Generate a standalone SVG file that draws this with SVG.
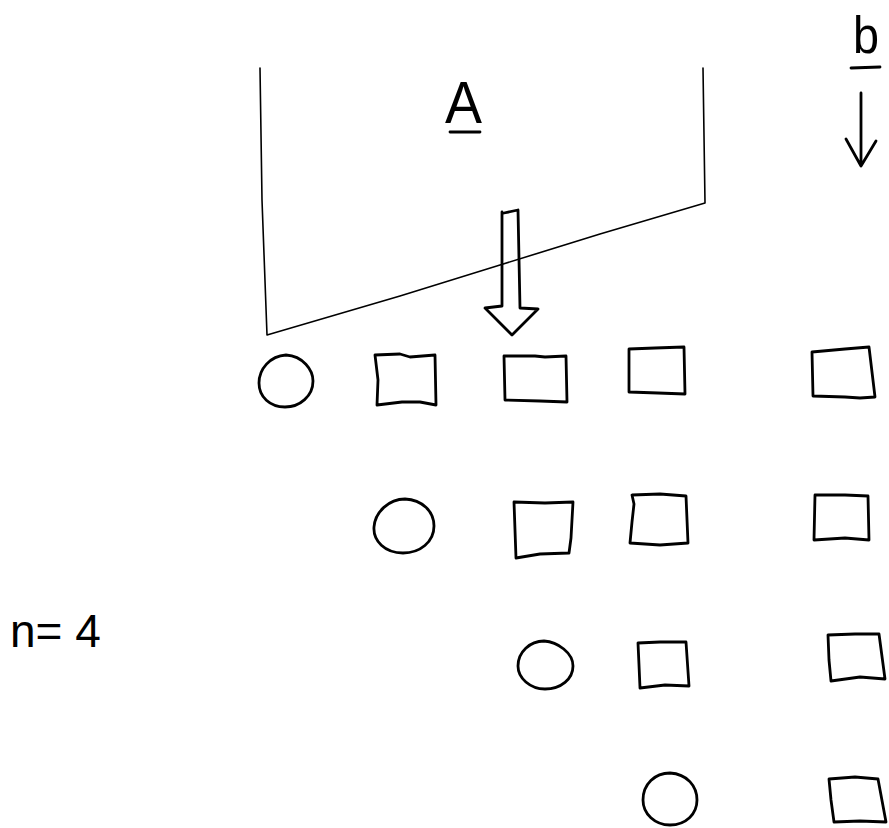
<svg xmlns="http://www.w3.org/2000/svg" width="889" height="828" viewBox="0 0 889 828">
<style>
.thin{fill:none;stroke:#000;stroke-width:1.6;stroke-linecap:round;stroke-linejoin:round}
.sh{fill:none;stroke:#000;stroke-width:2.8;stroke-linecap:round;stroke-linejoin:round}
.lbl{font-family:"Liberation Sans",Arial,sans-serif;fill:#000}
</style>
<rect width="889" height="828" fill="#fff"/>
<g id="matrixA">
<path class="thin" d="M260,68 L262,200 L267,335 L400,296 L500,265 L600,234 L705,203 L703,68"/>
<text class="lbl" x="445" y="123" font-size="60" textLength="37" lengthAdjust="spacingAndGlyphs">A</text>
<line class="sh" x1="450" y1="132" x2="480" y2="132" stroke-width="3.5"/>
</g>
<g id="labelB">
<text class="lbl" x="853" y="53" font-size="52" textLength="26" lengthAdjust="spacingAndGlyphs">b</text>
<line class="sh" x1="851" y1="68" x2="880" y2="67"/>
</g>
<g id="labelN">
<text class="lbl" x="10" y="647" font-size="46">n= 4</text>
</g>
<g id="r1c0"><path class="sh" d="M286,355 C303,356 313,370 313,381 C313,396 300,407 285,407 C270,407 259,397 259,383 C259,369 270,356 286,355 Z"/></g>
<g id="r1c1"><path class="sh" d="M375,355 L400,354 L410,357 L435,355 L436,405 L420,402 L402,402 L377,405 L378,380 Z"/></g>
<g id="r1c2"><path class="sh" d="M504,356 L535,356 L545,357 L566,356 L567,402 L540,401 L505,400 Z"/></g>
<g id="r1c3"><path class="sh" d="M629,349 L655,348 L684,347 L685,394 L658,393 L629,392 Z"/></g>
<g id="r1c4"><path class="sh" d="M812,352 L845,349 L869,347 L875,397 L860,398 L845,397 L813,396 Z"/></g>
<g id="r2c0"><path class="sh" d="M405,499 C422,500 434,511 434,526 C434,542 420,553 403,553 C385,553 373,541 374,527 C375,512 389,499 405,499 Z"/></g>
<g id="r2c1"><path class="sh" d="M514,502 L545,503 L573,502 L571,538 L569,553 L540,554 L516,558 Z"/></g>
<g id="r2c2"><path class="sh" d="M632,495 L660,494 L686,496 L688,543 L660,545 L630,543 L632,522 L634,504 Z"/></g>
<g id="r2c3"><path class="sh" d="M815,495 L845,495 L868,496 L869,540 L845,538 L814,540 Z"/></g>
<g id="r3c0"><path class="sh" d="M544,641 C558,642 573,653 573,666 C573,679 561,689 545,689 C530,689 518,678 518,666 C518,652 530,641 544,641 Z"/></g>
<g id="r3c1"><path class="sh" d="M638,643 L660,642 L686,642 L689,686 L665,685 L640,688 L639,665 Z"/></g>
<g id="r3c2"><path class="sh" d="M828,635 L855,634 L879,634 L885,679 L860,677 L831,681 L829,660 Z"/></g>
<g id="r4c0"><path class="sh" d="M670,773 C687,774 697,786 697,800 C697,814 686,825 670,825 C655,825 643,814 643,800 C643,784 655,773 670,773 Z"/></g>
<g id="r4c1"><path class="sh" d="M829,779 L855,777 L878,779 L886,822 L860,821 L834,822 L831,800 Z"/></g>
<g id="connectors">
<path class="sh" stroke-width="2.4" d="M502,212 L502,306 L485,308 L512,335 L538,309 L520,308 L518,210 L504,213"/>
<path class="sh" d="M861,93 L861,166 M846,139 L861,166 L876,141"/>
</g>
</svg>
